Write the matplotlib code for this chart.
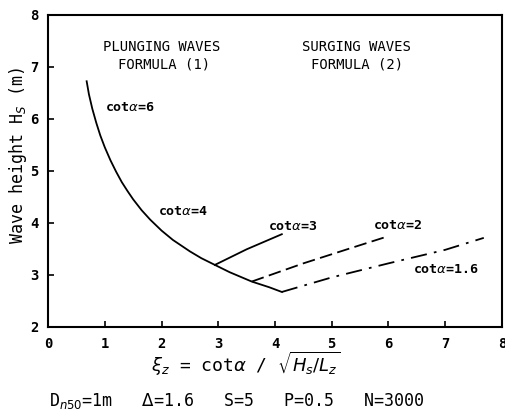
import matplotlib
matplotlib.use('Agg')
import matplotlib.pyplot as plt

# courbe de deferlement plongeant (formule 1)
xi_plunging = [0.68, 0.72, 0.78, 0.85, 0.92, 1.0, 1.1, 1.2, 1.3, 1.4, 1.5, 1.65, 1.8,
               2.0, 2.2, 2.5, 2.7, 2.94, 3.2, 3.59, 3.9, 4.12]
h_plunging = [6.72, 6.47, 6.19, 5.92, 5.68, 5.45, 5.20, 4.98, 4.78, 4.61, 4.45, 4.24, 4.06,
              3.85, 3.67, 3.45, 3.32, 3.19, 3.05, 2.87, 2.76, 2.67]

# courbes de deferlement gonflant (formule 2)
xi_cot3 = [2.94, 3.5, 4.12]
h_cot3 = [3.19, 3.49, 3.78]
xi_cot2 = [3.59, 4.5, 5.3, 5.99]
h_cot2 = [2.87, 3.22, 3.50, 3.74]
xi_cot16 = [4.12, 5.0, 6.0, 7.0, 7.68]
h_cot16 = [2.67, 2.95, 3.22, 3.48, 3.71]

x_ticks = [0, 1, 2, 3, 4, 5, 6, 7, 8]
y_ticks = [2, 3, 4, 5, 6, 7, 8]

MONO = 'DejaVu Sans Mono'


def main():
    fig = plt.figure(figsize=(5.06, 4.19), dpi=100)
    ax = fig.add_axes([0.095, 0.22, 0.897, 0.745])

    ax.plot(xi_plunging, h_plunging, color='k', lw=1.3)
    ax.plot(xi_cot3, h_cot3, color='k', lw=1.3)
    ax.plot(xi_cot2, h_cot2, color='k', lw=1.3, dashes=(7, 3))
    ax.plot(xi_cot16, h_cot16, color='k', lw=1.3, dashes=(9, 4, 1.5, 4))

    ax.set_xlim(0, 8)
    ax.set_ylim(2, 8)
    ax.set_xticks(x_ticks)
    ax.set_yticks(y_ticks)
    ax.tick_params(direction='in', length=4, width=1.2, labelsize=10)
    ax.tick_params(axis='x', pad=7)
    ax.tick_params(axis='y', pad=7)
    for lab in ax.get_xticklabels() + ax.get_yticklabels():
        lab.set_family(MONO)
        lab.set_weight('bold')
    for s in ax.spines.values():
        s.set_linewidth(1.5)

    # etiquettes des courbes
    kw = dict(family=MONO, fontsize=9.5, weight='bold')
    ax.text(1.0, 6.21, r'cot$\alpha$=6', va='center', **kw)
    ax.text(1.94, 4.21, r'cot$\alpha$=4', va='center', **kw)
    ax.text(3.88, 3.92, r'cot$\alpha$=3', va='center', **kw)
    ax.text(5.73, 3.94, r'cot$\alpha$=2', va='center', **kw)
    ax.text(6.43, 3.10, r'cot$\alpha$=1.6', va='center', **kw)

    kw2 = dict(family=MONO, fontsize=10, ha='center', va='center')
    ax.text(2.0, 7.38, 'PLUNGING WAVES', **kw2)
    ax.text(2.05, 7.04, 'FORMULA (1)', **kw2)
    ax.text(5.44, 7.38, 'SURGING WAVES', **kw2)
    ax.text(5.44, 7.04, 'FORMULA (2)', **kw2)

    ax.set_ylabel(r'Wave height H$_S$ (m)', fontsize=12, family=MONO)
    ax.yaxis.set_label_coords(-0.042, 0.55)
    ax.set_xlabel(r'$\xi_z$ = cot$\alpha$ / $\sqrt{H_s/L_z}$', fontsize=13, family=MONO)
    ax.xaxis.set_label_coords(0.435, -0.075)

    fig.text(0.097, 0.03, r'D$_{n50}$=1m   $\Delta$=1.6   S=5   P=0.5   N=3000',
             family=MONO, fontsize=12)

    fig.savefig('out.png', dpi=100)


if __name__ == "__main__":
    main()
